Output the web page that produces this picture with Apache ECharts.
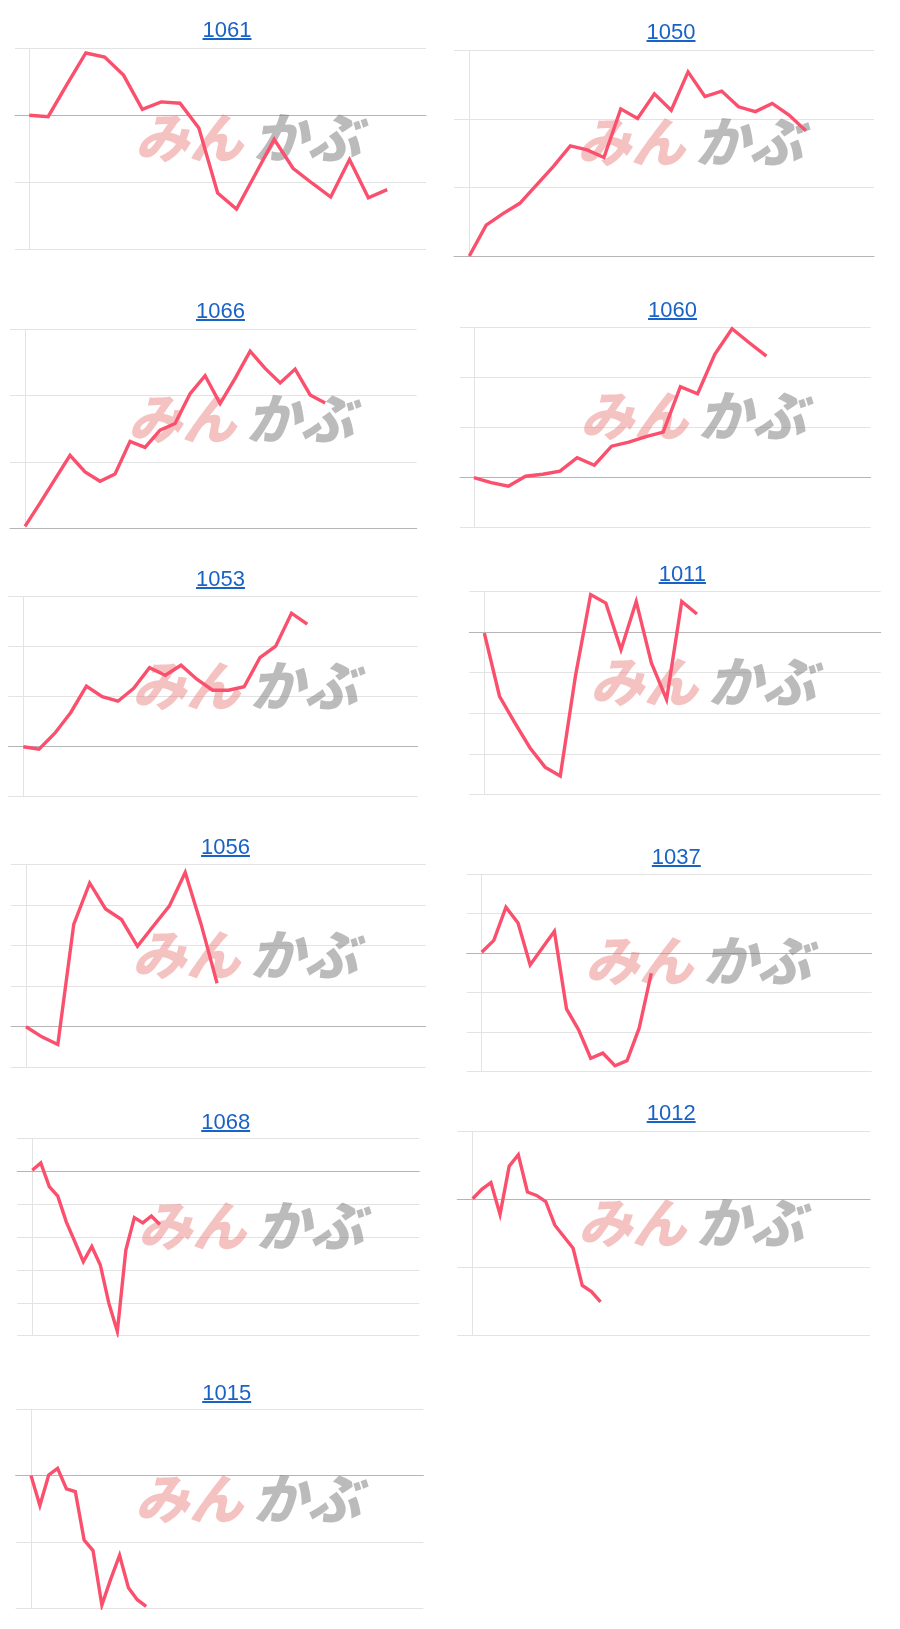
<!DOCTYPE html>
<html><head><meta charset="utf-8">
<script src="https://cdn.jsdelivr.net/npm/echarts@6/dist/echarts.min.js"></script>
<style>
html,body{margin:0;padding:0;background:#fff;}
#wrap{position:relative;width:900px;height:1629px;overflow:hidden;}
#chart{position:absolute;left:0;top:0;width:900px;height:1629px;}
.ttl{position:absolute;transform:translateX(-50%);font-family:"Liberation Sans",Arial,sans-serif;font-size:22px;line-height:22px;color:#1a63c6;text-decoration:underline;text-decoration-thickness:1.5px;white-space:nowrap;}
</style></head><body>
<div id="wrap"><div id="chart"></div></div>
<script>
// ---- data ----
const codes = ['1061','1050','1066','1060','1053','1011','1056','1037','1068','1012','1015'];
const v1061 = [0.0,-0.2,4.6,9.3,8.7,6.0,0.9,2.0,1.8,-1.9,-11.6,-14.0,-8.8,-3.6,-7.9,-10.1,-12.2,-6.6,-12.3,-11.1];
const v1050 = [0,4.5,6.2,7.7,10.4,13.1,16.1,15.5,14.4,21.5,20.1,23.7,21.3,26.9,23.3,24.1,21.8,21.1,22.3,20.6,18.3];
const v1066 = [0.3,3.8,7.4,11.0,8.5,7.1,8.2,13.1,12.2,14.8,15.8,20.3,23.0,18.8,22.6,26.7,24.1,21.9,24.0,20.1,18.9];
const v1060 = [0,-1.0,-1.7,0.3,0.7,1.3,4.0,2.5,6.3,7.1,8.2,9.1,18.2,16.8,24.7,29.8,27.0,24.3];
const v1053 = [0,-0.5,2.7,6.8,12.1,10.0,9.1,11.7,15.8,14.3,16.3,13.5,11.3,11.3,12.0,17.8,20.1,26.7,24.5];
const v1011 = [-0.2,-15.8,-22.3,-28.5,-33.3,-35.5,-10.8,9.3,7.2,-4.3,7.6,-7.6,-16.6,7.6,4.5];
const v1056 = [0,-2.5,-4.4,25.2,35.4,29.0,26.4,19.8,24.8,29.7,38.0,25.2,10.7];
const v1037 = [0.2,3.2,11.6,7.6,-3.0,1.3,5.5,-14.1,-19.4,-26.6,-25.3,-28.5,-27.2,-19.0,-5.1];
const v1068 = [0.3,2.5,-4.7,-7.6,-15.4,-21.4,-27.5,-22.9,-28.5,-40.1,-48.7,-24.0,-14.1,-15.7,-13.6,-16.2];
const v1012 = [0.1,1.5,2.5,-2.2,4.9,6.6,1.1,0.6,-0.3,-3.8,-5.5,-7.2,-12.7,-13.6,-15.1];
const v1015 = [0,-4.5,0.1,1.1,-2.0,-2.4,-9.7,-11.3,-19.5,-15.6,-12.0,-16.9,-18.7,-19.7];
const seriesValues = [v1061,v1050,v1066,v1060,v1053,v1011,v1056,v1037,v1068,v1012,v1015];
const yMins = [-20,0,0,-10,-10,-40,-10,-30,-50,-20,-20];
const yMaxs = [10,30,30,30,30,10,40,20,10,10,10];
const yInterval = 10;

// ---- layout (positions / sizes) ----
const layout = [
  {l:15,   t:48.3,   w:411,   h:201,   xmin:-0.76, xmax:21.06, tx:227,   ty:19.2,   wx:135, wy:140},
  {l:454,  t:50.7,   w:420,   h:205.3, xmin:-0.91, xmax:24.05, tx:671,   ty:21.2,   wx:577, wy:144.5},
  {l:10,   t:329.3,  w:406.7, h:199,   xmin:-1.0,  xmax:26.1,  tx:220.5, ty:300.2,  wx:128, wy:421},
  {l:460,  t:327.7,  w:410.7, h:200,   xmin:-0.81, xmax:23.06, tx:672.5, ty:298.9,  wx:580, wy:418},
  {l:8.3,  t:596.7,  w:409.4, h:200,   xmin:-0.95, xmax:25.0,  tx:220.5, ty:567.9,  wx:132, wy:688},
  {l:469.3,t:591.7,  w:411.4, h:202.6, xmin:-0.99, xmax:26.1,  tx:682.3, ty:563.2,  wx:590, wy:684},
  {l:11,   t:864.3,  w:414.7, h:203,   xmin:-0.94, xmax:25.1,  tx:225.5, ty:835.5,  wx:132, wy:957.5},
  {l:466.7,t:874,    w:405,   h:197.7, xmin:-1.24, xmax:32.2,  tx:676.3, ty:845.5,  wx:585, wy:963.5},
  {l:17.3, t:1138.3, w:402,   h:197.4, xmin:-1.76, xmax:45.5,  tx:225.7, ty:1111.2, wx:138, wy:1228},
  {l:457.3,t:1131.7, w:412.7, h:203.3, xmin:-1.68, xmax:43.5,  tx:671.2, ty:1102.2, wx:578, wy:1225},
  {l:15.7, t:1409.3, w:407.6, h:199,   xmin:-1.73, xmax:44.3,  tx:226.7, ty:1382.2, wx:135, wy:1501}
];

const LINE = '#fa506d', GRID = '#e3e3e3', BASE = '#b5b5b5';
const wrap = document.getElementById('wrap');
codes.forEach((c,i)=>{
  const a = document.createElement('a');
  a.className='ttl'; a.href='#'; a.textContent=c;
  a.style.left = layout[i].tx+'px'; a.style.top = layout[i].ty+'px';
  wrap.appendChild(a);
});

const grid=[], xAxis=[], yAxis=[], series=[], graphic=[];
codes.forEach((c,i)=>{
  const L = layout[i];
  grid.push({left:L.l, top:L.t, width:L.w, height:L.h, containLabel:false});
  xAxis.push({type:'value', gridIndex:i, min:L.xmin, max:L.xmax,
    axisLine:{show:true, onZero:true, lineStyle:{color:BASE, width:1}},
    axisTick:{show:false}, axisLabel:{show:false}, splitLine:{show:false}});
  yAxis.push({type:'value', gridIndex:i, min:yMins[i], max:yMaxs[i], interval:yInterval,
    axisLine:{show:true, onZero:true, lineStyle:{color:GRID, width:1}},
    axisTick:{show:false}, axisLabel:{show:false},
    splitLine:{show:true, lineStyle:{color:GRID, width:1}}});
  series.push({type:'line', xAxisIndex:i, yAxisIndex:i, showSymbol:false, symbol:'none',
    data: seriesValues[i].map((v,k)=>[k,v]), z:3,
    lineStyle:{color:LINE, width:3.4, join:'miter', cap:'butt'}});
  graphic.push({type:'text', left:L.wx, top:L.wy-30, z:1, silent:true,
    style:{text:'みん', font:'italic 900 54px "Noto Sans CJK JP"', fill:'rgba(232,120,120,0.45)'}});
  graphic.push({type:'text', left:L.wx+118, top:L.wy-30, z:1, silent:true,
    style:{text:'かぶ', font:'italic 900 54px "Noto Sans CJK JP"', fill:'rgba(120,120,120,0.5)'}});
});

const chart = echarts.init(document.getElementById('chart'), null, {renderer:'canvas'});
chart.setOption({animation:false, backgroundColor:'#fff', grid, xAxis, yAxis, series, graphic});
</script>
</body></html>
